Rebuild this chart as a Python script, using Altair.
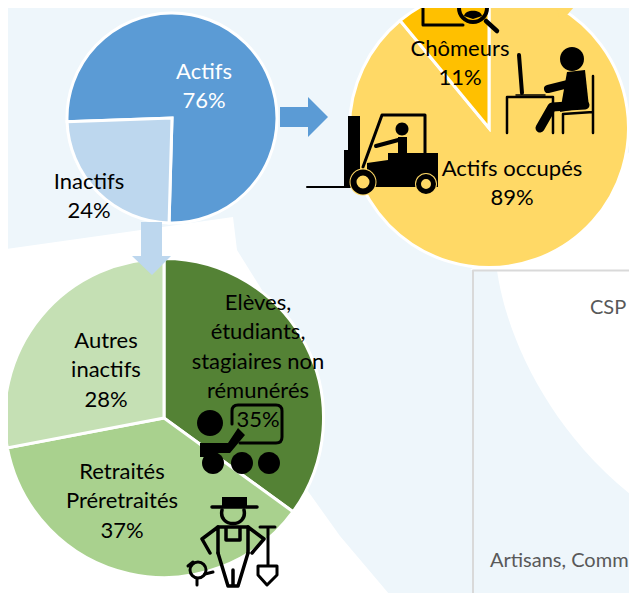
import altair as alt
import pandas as pd
import math

# ---- data ----
pie1_categories = ["Actifs", "Inactifs"]
pie1_values = [76, 24]
pie2_categories = ["Actifs occupés", "Chômeurs"]
pie2_values = [89, 11]
pie3_categories = ["Elèves, étudiants, stagiaires non rémunérés", "Retraités Préretraités", "Autres inactifs"]
pie3_values = [35, 37, 28]

label_actifs = "Actifs\n76%"
label_inactifs = "Inactifs\n24%"
label_chomeurs = "Chômeurs\n11%"
label_occupes = "Actifs occupés\n89%"
label_eleves = "Elèves,\nétudiants,\nstagiaires non\nrémunérés\n35%"
label_autres = "Autres\ninactifs\n28%"
label_retraites = "Retraités\nPréretraités\n37%"
label_csp = "CSP"
label_artisans = "Artisans, Comm"

all_categories = pie1_categories + pie2_categories + pie3_categories
all_colors = ["#5B9BD5", "#BDD7EE", "#FFD966", "#FFC000", "#548235", "#A9D18E", "#C5E0B4"]

FONT = "Lato"
OFF = 8  # page margin
one = pd.DataFrame({"k": [0]})


def pie(cats, vals, cx, cy, r, start_deg):
    df = pd.DataFrame({"cat": cats, "value": vals, "ord": list(range(len(cats)))})
    a = math.radians(start_deg)
    return alt.Chart(df).mark_arc(outerRadius=r, stroke="white", strokeWidth=3).encode(
        theta=alt.Theta("value:Q", stack=True,
                        scale=alt.Scale(domain=[0, sum(vals)], range=[a, a + 2 * math.pi])),
        order=alt.Order("ord:Q"),
        color=alt.Color("cat:N", scale=alt.Scale(domain=all_categories, range=all_colors), legend=None),
        x=alt.value(cx - OFF),
        y=alt.value(cy - OFF),
    )


def shape(path, fill=None, stroke=None, sw=0):
    """Decorative drawing: path is written in page pixels."""
    kw = dict(shape=path, size=4, opacity=1)
    if fill:
        kw.update(filled=True, fill=fill, strokeWidth=0)
    else:
        kw.update(filled=False, stroke=stroke, strokeWidth=sw, strokeCap="round", strokeJoin="round")
    return alt.Chart(one).mark_point(**kw).encode(x=alt.value(-OFF), y=alt.value(-OFF))


def circ(x, y, r):
    return f"M{x-r} {y}A{r} {r} 0 1 1 {x+r} {y}A{r} {r} 0 1 1 {x-r} {y}Z"


def label(t, x, y, color="black", size=22, align="center"):
    return alt.Chart(pd.DataFrame({"t": [t]})).mark_text(
        font=FONT, fontSize=size, lineBreak="\n", lineHeight=29.3, color=color,
        align=align, baseline="top",
    ).encode(text="t:N", x=alt.value(x - OFF), y=alt.value(y - OFF))


# ---- background ----
bg = [
    shape("M0 250L233 217L237 250L262 290L300 480L340 536L395 601L0 601Z", fill="#FFFFFF"),
    shape("M470 270L632 150L640 145L640 270Z", fill="#FFFFFF"),
    shape("M497 270C505 330 545 430 640 502L640 270Z", fill="#FFFFFF"),
    shape("M473 601L473 270.5L640 270.5", stroke="#D9D9D9", sw=2),
]

pies = [
    pie(pie1_categories, pie1_values, 172, 118, 105, 268),
    pie(pie2_categories, pie2_values, 489, 128, 139.5, 0),
    pie(pie3_categories, pie3_values, 164, 418, 159.5, 0),
]

# ---- arrows ----
arrows = [
    shape("M280 107L308 107L308 97L328 117L308 137L308 127L280 127Z", fill="#5B9BD5"),
    shape("M141 222L162 222L162 256L171 256L152 275L132 256L141 256Z", fill="#BDD7EE"),
    shape("M556 7L563 0L580 0L568 14L560 20Z", fill="#FFD966"),
]

K = "#000000"
Y = "#FFD966"
icons = [
    # magnifier on document
    shape("M423 0L423 25L463 25", stroke=K, sw=3),
    shape(circ(473, 8, 14), stroke=K, sw=4),
    shape("M486 21L497 31", stroke=K, sw=4.5),
    shape(circ(473, 3, 4), fill=K),
    shape("M464 16C465 9 481 9 482 16L473 19Z", fill=K),
    # person at desk
    shape(circ(572, 59, 12), fill=K),
    shape("M567 72L585 70L589 107L560 112Z", fill=K),
    shape("M548 89L572 83", stroke=K, sw=8),
    shape("M585 105L552 107L540 128", stroke=K, sw=9),
    shape("M519 55L522 93", stroke=K, sw=4),
    shape("M516 95L545 95", stroke=K, sw=1.5),
    shape("M507 133L507 97L553 97L553 133", stroke=K, sw=2.5),
    shape("M593 76L593 133M563 133L563 114L593 112", stroke=K, sw=2.5),
    # forklift
    shape("M307 187L350 187", stroke=K, sw=2),
    shape("M348 116L360 116L360 187L344 187L344 150L348 150Z", fill=K),
    shape("M363 167L382 115L425 115L425 153", stroke=K, sw=3),
    shape("M388 153L438 153L438 187L367 187L367 163L388 160Z", fill=K),
    shape(circ(402, 129, 6.5), fill=K),
    shape("M398 137L407 137L407 155L398 155Z", fill=K),
    shape("M402 139L376 146", stroke=K, sw=4),
    shape(circ(363, 182, 13.5), fill=Y),
    shape(circ(426, 184, 11), fill=Y),
    shape(circ(363, 182, 9.5), stroke=K, sw=6),
    shape(circ(426, 184, 7.5), stroke=K, sw=5),
    # teacher
    shape(circ(210, 423, 13), fill=K),
    shape("M232 424L232 411Q232 405 238 405L276 405Q282 405 282 411L282 437Q282 443 276 443L240 443", stroke=K, sw=3),
    shape("M200 443L228 443L238 428L245 435L230 453L212 453L212 457L200 457Z", fill=K),
    shape(circ(213, 463, 11), fill=K),
    shape(circ(242, 463, 11), fill=K),
    shape(circ(269, 463, 11), fill=K),
    # farmer
    shape("M212 507L257 507", stroke=K, sw=3.5),
    shape("M222 497L247 497L247 507L222 507Z", fill=K),
    shape("M222 510C218 528 248 528 244 510", stroke=K, sw=3.5),
    shape("M218 527L202 539L210 553M218 527L218 553M248 527L248 553M248 527L264 539L252 553", stroke=K, sw=3.5),
    shape("M218 553L228 586L238 586L248 553M233 570L233 586M218 527L248 527M226 527L226 540L240 540L240 527", stroke=K, sw=3.5),
    shape("M268 527L268 565M260 527L275 527", stroke=K, sw=3),
    shape("M258 566L277 566L277 575L267 585L258 575Z", stroke=K, sw=3),
    shape(circ(198, 570, 8), stroke=K, sw=3),
    shape("M188 566L193 562M205 574L213 572M197 579L197 585", stroke=K, sw=3),
]

texts = [
    label(label_actifs, 204, 62, color="#FFFFFF"),
    label(label_inactifs, 89, 172),
    label(label_chomeurs, 460, 39),
    label(label_occupes, 512, 159),
    label(label_eleves, 258, 293),
    label(label_autres, 106, 331),
    label(label_retraites, 122, 462),
    label(label_csp, 590, 298, color="#595959", size=20, align="left"),
    label(label_artisans, 490, 551, color="#595959", size=20, align="left"),
]

chart = alt.layer(*bg, *pies, *arrows, *icons, *texts).resolve_scale(theta="independent").properties(
    width=621, height=585, background="#EEF6FB", padding=0,
    autosize=alt.AutoSizeParams(type="none"),
).configure_view(stroke=None)

chart.save("out.html", embed_options={"renderer": "svg", "actions": False})
